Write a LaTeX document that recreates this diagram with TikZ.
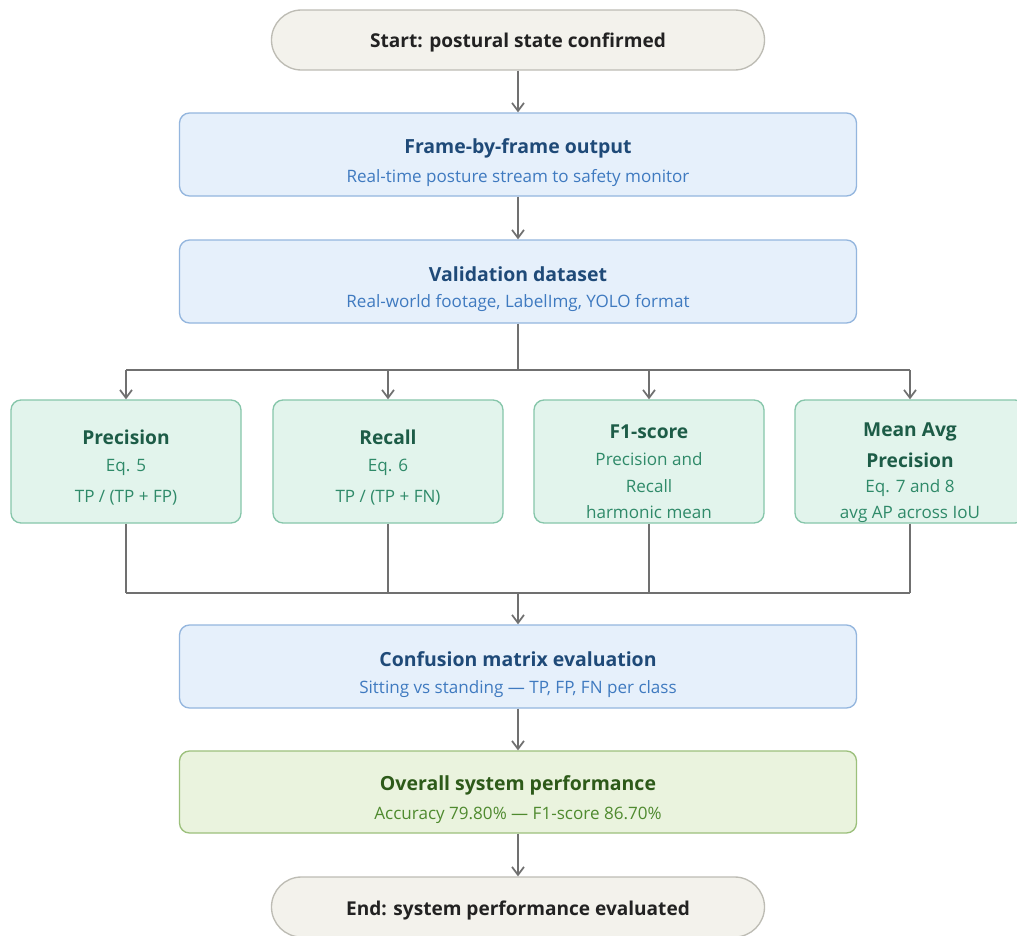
\documentclass[tikz,border=0pt]{standalone}
\usepackage{fontspec}
\setmainfont{Open Sans}
\usetikzlibrary{arrows.meta}
\definecolor{termfill}{HTML}{F3F2EC}
\definecolor{termdraw}{HTML}{BDBCB4}
\definecolor{termtext}{HTML}{222222}
\definecolor{bluefill}{HTML}{E6F0FB}
\definecolor{bluedraw}{HTML}{94B6DE}
\definecolor{bluetitle}{HTML}{1F4A78}
\definecolor{bluesub}{HTML}{3F7AC0}
\definecolor{greenfill}{HTML}{E2F4EC}
\definecolor{greendraw}{HTML}{86C6AA}
\definecolor{greentitle}{HTML}{1D5C47}
\definecolor{greensub}{HTML}{2F8A69}
\definecolor{limefill}{HTML}{EAF3DE}
\definecolor{limedraw}{HTML}{9CC07C}
\definecolor{limetitle}{HTML}{2D5A19}
\definecolor{limesub}{HTML}{4F8A2F}
\definecolor{linegray}{HTML}{707070}
\tikzset{
  term/.style={draw=termdraw, fill=termfill, line width=1pt, rounded corners=22.5pt,
    minimum width=369.75pt, minimum height=45pt},
  ttext/.style={text=termtext, font=\fontsize{14.3pt}{17pt}\selectfont\bfseries},
  bluebox/.style={draw=bluedraw, fill=bluefill, line width=1pt, rounded corners=7.5pt,
    minimum width=507.75pt, minimum height=62.25pt, align=center},
  greenbox/.style={draw=greendraw, fill=greenfill, line width=1pt, rounded corners=7.5pt,
    minimum width=172.5pt, minimum height=92.25pt, align=center},
  limebox/.style={draw=limedraw, fill=limefill, line width=1pt, rounded corners=7.5pt,
    minimum width=507.75pt, minimum height=61.5pt, align=center},
  conn/.style={draw=linegray, line width=1.4pt},
  arr/.style={conn, -{Straight Barb[length=6pt,width=9pt,line width=1.3pt]}},
  btitle/.style={text=bluetitle, font=\fontsize{14.6pt}{17pt}\selectfont\bfseries},
  bsub/.style={text=bluesub, font=\fontsize{12.8pt}{15pt}\selectfont},
  gtitle/.style={text=greentitle, font=\fontsize{14.4pt}{17pt}\selectfont\bfseries},
  gsub/.style={text=greensub, font=\fontsize{12.8pt}{15pt}\selectfont},
  ltitle/.style={text=limetitle, font=\fontsize{14.6pt}{17pt}\selectfont\bfseries},
  lsub/.style={text=limesub, font=\fontsize{12.8pt}{15pt}\selectfont},
}
\begin{document}
\begin{tikzpicture}[x=0.75pt,y=-0.75pt]
\useasboundingbox (0,0) rectangle (1017,935);
\clip (0,0) rectangle (1017,935);
\fill[white] (0,0) rectangle (1017,935);

% terminals
\node[term] (start) at (518,40) {};
\node[ttext] (startT) at (518,42) {Start: postural state confirmed};
\node[term] (end) at (518,907) {};
\node[ttext] (endT) at (518,910) {End: system performance evaluated};

% blue boxes
\node[bluebox] (frame) at (518,154.5) {};
\node[btitle] (frameT) at (518,148) {Frame-by-frame output};
\node[bsub] (frameS) at (518,178) {Real-time posture stream to safety monitor};

\node[bluebox] (valid) at (518,281.5) {};
\node[btitle] (validT) at (518,274) {Validation dataset};
\node[bsub] (validS) at (518,303) {Real-world footage, LabelImg, YOLO format};

\node[bluebox] (conf) at (518,666.5) {};
\node[btitle] (confT) at (518,659) {Confusion matrix evaluation};
\node[bsub] (confS) at (518,689) {Sitting vs standing --- TP, FP, FN per class};

\node[limebox] (perf) at (518,792) {};
\node[ltitle] (perfT) at (518,785) {Overall system performance};
\node[lsub] (perfS) at (518,815) {Accuracy 79.80\% --- F1-score 86.70\%};

% green metric boxes
\node[greenbox] (prec) at (126,461.5) {};
\node[gtitle] (precT) at (126,437) {Precision};
\node[gsub] (precA) at (126,467) {Eq. 5};
\node[gsub] (precB) at (126,498) {TP / (TP + FP)};

\node[greenbox] (rec) at (388,461.5) {};
\node[gtitle] (recT) at (388,437) {Recall};
\node[gsub] (recA) at (388,467) {Eq. 6};
\node[gsub] (recB) at (388,498) {TP / (TP + FN)};

\node[greenbox] (fone) at (649,461.5) {};
\node[gtitle] (foneT) at (649,432) {F1-score};
\node[gsub] (foneA) at (649,459) {Precision and};
\node[gsub] (foneB) at (649,486) {Recall};
\node[gsub] (foneC) at (649,512) {harmonic mean};

\node[greenbox] (map) at (910,461.5) {};
\node[gtitle] (mapT) at (910,432) {Mean Avg};
\node[gtitle] (mapU) at (910,460) {Precision};
\node[gsub] (mapA) at (910,488) {Eq. 7 and 8};
\node[gsub] (mapB) at (910,514) {avg AP across IoU};

% connectors
\draw[arr] (start) -- (frame);
\draw[arr] (frame) -- (valid);

\coordinate (split) at (518,370);
\coordinate (splitL) at (126,370);
\coordinate (splitR) at (910,370);
\draw[conn] (valid) -- (split);
\draw[conn] (splitL) -- (splitR);
\draw[arr] (splitL) -- (prec);
\draw[arr] (rec.north |- split) -- (rec);
\draw[arr] (fone.north |- split) -- (fone);
\draw[arr] (splitR) -- (map);

\coordinate (join) at (518,593);
\coordinate (joinL) at (126,593);
\coordinate (joinR) at (910,593);
\draw[conn] (prec) -- (joinL);
\draw[conn] (rec) -- (rec.south |- join);
\draw[conn] (fone) -- (fone.south |- join);
\draw[conn] (map) -- (joinR);
\draw[conn] (joinL) -- (joinR);
\draw[arr] (join) -- (conf);

\draw[arr] (conf) -- (perf);
\draw[arr] (perf) -- (end);
\end{tikzpicture}
\end{document}
